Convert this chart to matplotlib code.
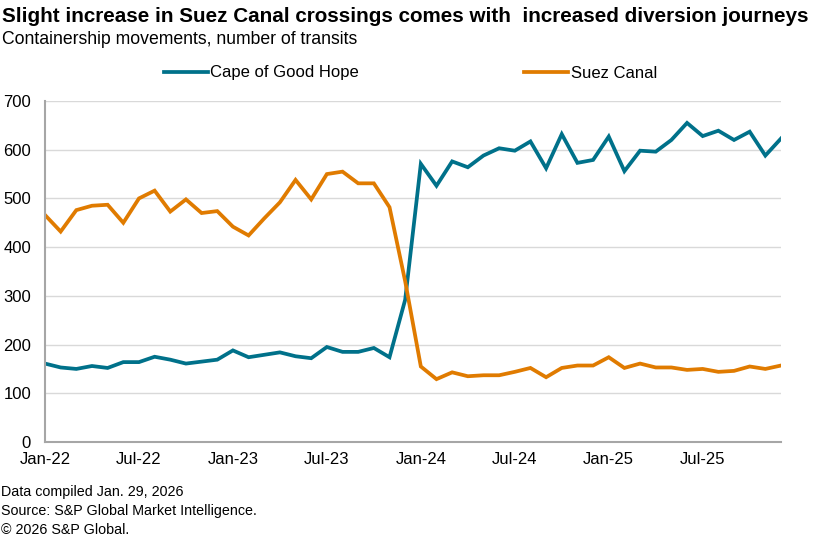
import matplotlib
matplotlib.use("Agg")
import matplotlib.pyplot as plt
import pandas as pd

plt.rcParams['font.family'] = ['Liberation Sans', 'DejaVu Sans']

months = pd.date_range("2022-01-01", "2025-12-01", freq="MS")
tick_labels = ["Jan-22", "Jul-22", "Jan-23", "Jul-23", "Jan-24", "Jul-24", "Jan-25", "Jul-25"]

cape = [161, 153, 150, 156, 152, 164, 164, 175, 169, 161, 165, 169,
        188, 174, 179, 184, 176, 172, 195, 185, 185, 193, 174, 292,
        571, 526, 576, 564, 588, 603, 598, 617, 562, 632, 573, 579,
        627, 556, 598, 596, 620, 655, 628, 639, 620, 637, 588, 623]
suez = [466, 432, 476, 485, 487, 450, 500, 516, 473, 498, 470, 474,
        442, 424, 459, 492, 538, 498, 550, 555, 531, 531, 482, 330,
        155, 129, 143, 135, 137, 137, 144, 152, 133, 152, 157, 157,
        174, 152, 161, 153, 153, 148, 150, 144, 146, 155, 150, 157]

blue = "#00718A"
orange = "#E07B00"

fig = plt.figure(figsize=(8.16, 5.4), dpi=100)
ax = fig.add_axes([45/816, (540-442)/540, (781-45)/816, (442-101)/540])

x = list(range(len(months)))
l1, = ax.plot(x, cape, color=blue, lw=2.7, solid_joinstyle='miter', label="Cape of Good Hope")
l2, = ax.plot(x, suez, color=orange, lw=2.7, solid_joinstyle='miter', label="Suez Canal")

ax.set_xlim(0, len(months) - 1)
ax.set_ylim(0, 700)
ax.set_yticks(range(0, 701, 100))
ax.set_xticks(range(0, len(months), 6))
ax.set_xticklabels(tick_labels)
ax.tick_params(axis='both', length=0, labelsize=12, colors='#000000')
ax.tick_params(axis='y', pad=10)
ax.tick_params(axis='x', pad=7)
ax.grid(axis='y', color='#D9D9D9', lw=1)
ax.set_axisbelow(True)
for s in ['top', 'right']:
    ax.spines[s].set_visible(False)
for s in ['left', 'bottom']:
    ax.spines[s].set_color('#A6A6A6')
    ax.spines[s].set_linewidth(1.5)

fig.text(2/816, 1 - 17/540, "Slight increase in Suez Canal crossings comes with  increased diversion journeys",
         fontsize=14.9, fontweight='bold', va='center', ha='left')
fig.text(2/816, 1 - 40/540, "Containership movements, number of transits",
         fontsize=12.7, va='center', ha='left')

fig.legend(handles=[l1, l2], loc='center', bbox_to_anchor=(410.5/816, 1 - 73/540), ncol=2,
           frameon=False, fontsize=12, handlelength=2.65, handletextpad=0.15, columnspacing=9.9)

for i, t in enumerate(["Data compiled Jan. 29, 2026", "Source: S&P Global Market Intelligence.",
                       "\u00a9 2026 S&P Global."]):
    fig.text(1/816, 1 - (492 + 19*i)/540, t, fontsize=10.3, va='center', ha='left')

fig.savefig("out.png", dpi=100)
